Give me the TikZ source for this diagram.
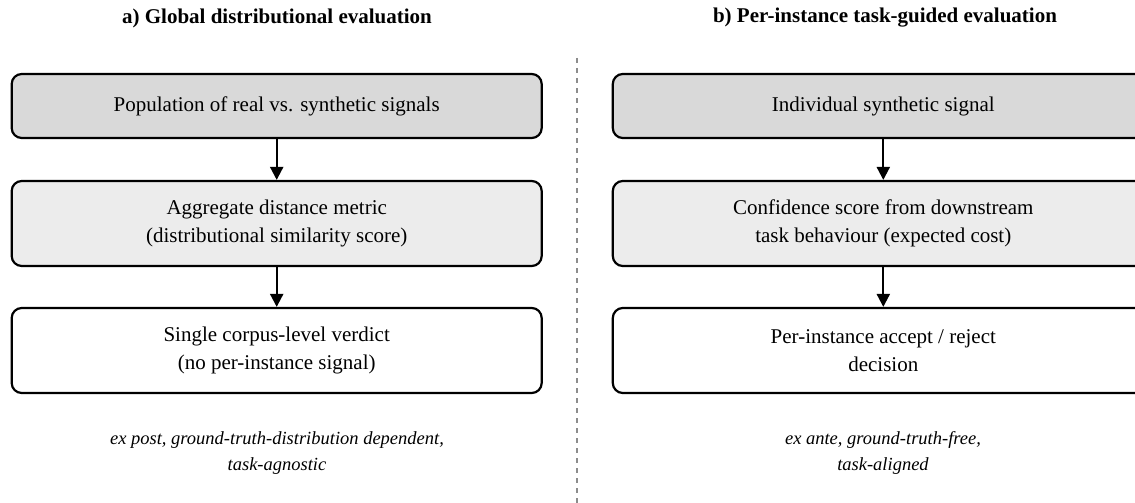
\documentclass[tikz,border=0pt]{standalone}
\usepackage{fontspec}
\setmainfont{Liberation Serif}
\usetikzlibrary{arrows.meta}
\definecolor{headfill}{HTML}{D9D9D9}
\definecolor{midfill}{HTML}{ECECEC}
\definecolor{divider}{HTML}{8C8C8C}
\begin{document}
\begin{tikzpicture}[x=1pt,y=-1pt,
  stagebox/.style={draw=black, line width=2.2pt, rounded corners=10pt,
    align=center, inner sep=0pt,
    font=\fontsize{21}{28}\selectfont},
  headbox/.style={stagebox, fill=headfill},
  midbox/.style={stagebox, fill=midfill},
  endbox/.style={stagebox, fill=white},
  flow/.style={line width=2.2pt, -{Triangle[width=13pt,length=13pt]}},
  paneltitle/.style={font=\fontsize{21}{24}\selectfont\bfseries},
  note/.style={align=center, font=\fontsize{18.5}{26}\selectfont\itshape}
]
\useasboundingbox (0,0) rectangle (1135,503);

% panel divider
\draw[divider, line width=1.5pt, dash pattern=on 5pt off 5pt] (577,58) -- (577,503);

% panel a
\node[paneltitle] (ta) at (277,18) {a) Global distributional evaluation};
\node[headbox, minimum width=530pt, minimum height=64pt] (a1) at (276.7,106)
  {Population of real vs. synthetic signals};
\node[midbox, minimum width=530pt, minimum height=85pt] (a2) at (276.7,223.5)
  {Aggregate distance metric\\(distributional similarity score)};
\node[endbox, minimum width=530pt, minimum height=85pt] (a3) at (276.7,350.5)
  {Single corpus-level verdict\\(no per-instance signal)};
\node[note] (na) at (277,453)
  {ex post, ground-truth-distribution dependent,\\task-agnostic};
\draw[flow] (a1) -- (a2);
\draw[flow] (a2) -- (a3);

% panel b
\node[paneltitle] (tb) at (885,18) {b) Per-instance task-guided evaluation};
\node[headbox, minimum width=541pt, minimum height=64pt] (b1) at (883.3,106)
  {Individual synthetic signal};
\node[midbox, minimum width=541pt, minimum height=85pt] (b2) at (883.3,223.5)
  {Confidence score from downstream\\task behaviour (expected cost)};
\node[endbox, minimum width=541pt, minimum height=85pt] (b3) at (883.3,350.5)
  {Per-instance accept / reject\\decision};
\node[note] (nb) at (883,453)
  {ex ante, ground-truth-free,\\task-aligned};
\draw[flow] (b1) -- (b2);
\draw[flow] (b2) -- (b3);
\end{tikzpicture}
\end{document}
